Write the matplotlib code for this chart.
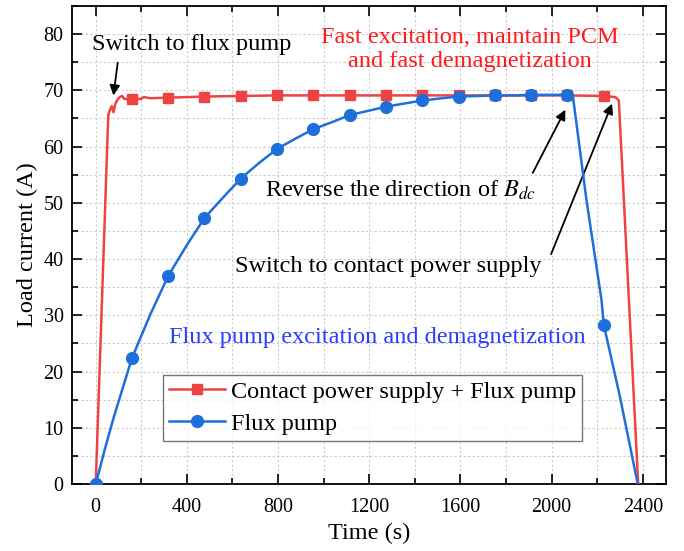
import matplotlib
matplotlib.use("Agg")
import matplotlib.pyplot as plt
from matplotlib.ticker import MultipleLocator

plt.rcParams['font.family'] = ['Liberation Serif', 'DejaVu Serif']
plt.rcParams['mathtext.fontset'] = 'stix'

# Contact power supply + Flux pump (red)
red_t = [0, 55, 62, 70, 78, 86, 95, 105, 115, 125, 140, 159, 200, 211, 240, 318, 477, 636, 796, 955,
         1114, 1273, 1432, 1592, 1751, 1910, 2069, 2229, 2280, 2295, 2380]
red_i = [0, 65.6, 66.5, 67.2, 66.1, 67.6, 68.3, 68.8, 69.0, 68.5, 68.4, 68.4, 68.5, 68.8, 68.6, 68.7, 68.9, 69.0, 69.1, 69.1,
         69.1, 69.1, 69.1, 69.1, 69.1, 69.1, 69.1, 69.0, 68.8, 68.2, 0]
red_marks = [11, 15, 16, 17, 18, 19, 20, 21, 22, 23, 24, 25, 26, 27]

# Flux pump (blue)
blue_t = [0, 40, 80, 159, 240, 318, 400, 477, 560, 636, 720, 796, 880, 955, 1040, 1114, 1200, 1273,
          1360, 1432, 1520, 1592, 1680, 1751, 1840, 1910, 2000, 2069, 2093, 2153, 2219, 2229, 2300, 2378]
blue_i = [0, 6.2, 12.0, 22.4, 30.2, 37.0, 42.5, 47.3, 51.0, 54.3, 57.2, 59.6, 61.5, 63.1, 64.4, 65.6, 66.4, 67.1,
          67.7, 68.2, 68.6, 68.9, 69.0, 69.1, 69.1, 69.2, 69.2, 69.2, 69.1, 50.5, 32.7, 28.3, 15.5, 0]
blue_marks = [0, 3, 5, 7, 9, 11, 13, 15, 17, 19, 21, 23, 25, 27, 31]

red_color = '#EF4343'
blue_color = '#1F6FDB'

fig = plt.figure(figsize=(6.84, 5.51), dpi=100)
ax = fig.add_axes([0.1053, 0.1216, 0.8684, 0.8675])

ax.plot(red_t, red_i, color=red_color, lw=1.8, marker='s', markersize=7, markevery=red_marks,
        label='Contact power supply + Flux pump', zorder=3)
ax.plot(blue_t, blue_i, color=blue_color, lw=1.8, marker='o', markersize=8.5, markevery=blue_marks,
        label='Flux pump', zorder=4)

ax.set_xlim(-104, 2502)
ax.set_ylim(0, 85)
ax.xaxis.set_major_locator(MultipleLocator(400))
ax.xaxis.set_minor_locator(MultipleLocator(200))
ax.yaxis.set_major_locator(MultipleLocator(10))
ax.yaxis.set_minor_locator(MultipleLocator(5))
ax.grid(True, which='both', color='#CCCCCC', linestyle=(0, (2, 2)), lw=0.8)
ax.set_axisbelow(True)
ax.tick_params(which='both', direction='in', top=True, right=True, width=1.2, labelsize=14.5)
ax.tick_params(axis='x', pad=10)
ax.tick_params(axis='y', pad=6)
ax.tick_params(which='major', length=7)
ax.tick_params(which='minor', length=4)
for s in ax.spines.values():
    s.set_linewidth(1.3)

ax.set_xlabel('Time (s)', fontsize=17.5, labelpad=4)
ax.set_ylabel('Load current (A)', fontsize=17.5, labelpad=4)

ax.text(422, 78.2, 'Switch to flux pump', fontsize=17.5, ha='center', va='center')
ax.annotate('', xy=(76, 68.6), xytext=(98, 75.4),
            arrowprops=dict(arrowstyle='-|>', color='black', lw=1.3, mutation_scale=15))
ax.text(1643, 77.2, 'Fast excitation, maintain PCM\nand fast demagnetization', fontsize=17.5,
        ha='center', va='center', color='#FF1A1A', linespacing=1.2)
ax.text(1339, 52.3, 'Reverse the direction of $B_{dc}$', fontsize=17.5, ha='center', va='center')
ax.annotate('', xy=(2066, 67.0), xytext=(1912, 54.9),
            arrowprops=dict(arrowstyle='-|>', color='black', lw=1.3, mutation_scale=15))
ax.text(1282, 38.6, 'Switch to contact power supply', fontsize=17.5, ha='center', va='center')
ax.annotate('', xy=(2270, 68.1), xytext=(1993, 40.4),
            arrowprops=dict(arrowstyle='-|>', color='black', lw=1.3, mutation_scale=15))
ax.text(1234, 26.1, 'Flux pump excitation and demagnetization', fontsize=17.5,
        ha='center', va='center', color='#2A3CFF')

leg = ax.legend(loc='upper left', bbox_to_anchor=(0.153, 0.229), fontsize=17.5, frameon=True,
                fancybox=False, edgecolor='#555555', handlelength=2.3, handletextpad=0.25,
                borderpad=0.25, labelspacing=0.42, borderaxespad=0)
leg.get_frame().set_linewidth(1.0)

fig.savefig('out.png', dpi=100)
